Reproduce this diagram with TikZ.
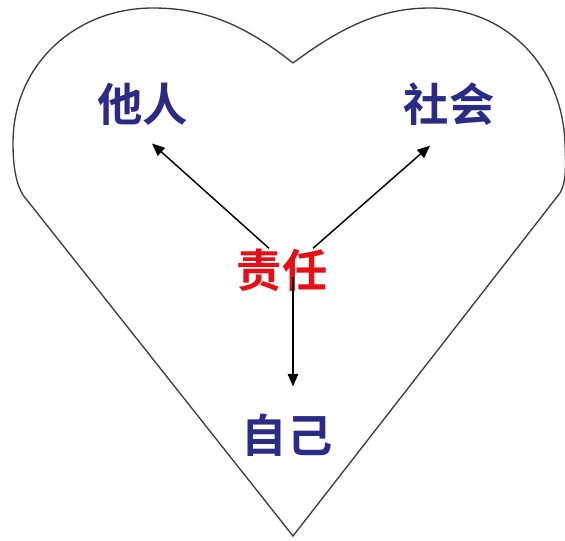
\documentclass[tikz,border=0pt]{standalone}
\usepackage{fontspec}
\usepackage{tikz}
\usetikzlibrary{
  arrows.meta,
  calc,
  positioning
}
\newfontfamily\cjk[BoldFont={Noto Sans CJK SC Bold}]{Noto Sans CJK SC}
\definecolor{wordblue}{RGB}{43,42,133}
\definecolor{dutyred}{RGB}{228,16,22}
\definecolor{heartgray}{RGB}{60,60,60}

\begin{document}
\begin{tikzpicture}[
  x=0.75pt, y=-0.75pt,
  word/.style={inner sep=0pt, font=\cjk\bfseries\fontsize{34}{34}\selectfont},
  target/.style={word, text=wordblue},
  duty/.style={word, text=dutyred},
  arr/.style={-{Triangle[length=9.5pt, width=8pt]}, line width=1.1pt},
  outline/.style={draw=heartgray, line width=1pt}
]
\useasboundingbox (0,0) rectangle (565,540);

% ── Heart ──
\draw[outline] (293,63) .. controls (245,25) and (205,8) .. (153,8)
  .. controls (75,8) and (13,65) .. (13,143)
  .. controls (13,170) and (17,185) .. (23,195)
  -- (293,536) -- (560,193)
  .. controls (566,183) and (566,168) .. (565,143)
  .. controls (562,65) and (505,8) .. (430,8)
  .. controls (380,8) and (340,28) .. (293,63);

% ── Words ──
\node[target] (other) at (143,104) {他人};
\node[target] (society) at (449,104) {社会};
\node[duty] (duty) at (282,270) {责任};
\node[target] (self) at (287,435) {自己};

% ── Arrows ──
\draw[arr] (duty.121) -- ($(other.south)+(9,18)$);
\draw[arr] (duty.35) -- ($(society.south)+(-19,20)$);
\draw[arr] ($(duty.south)+(11,-15)$) -- ($(self.north)+(6,-27)$);

\end{tikzpicture}
\end{document}
